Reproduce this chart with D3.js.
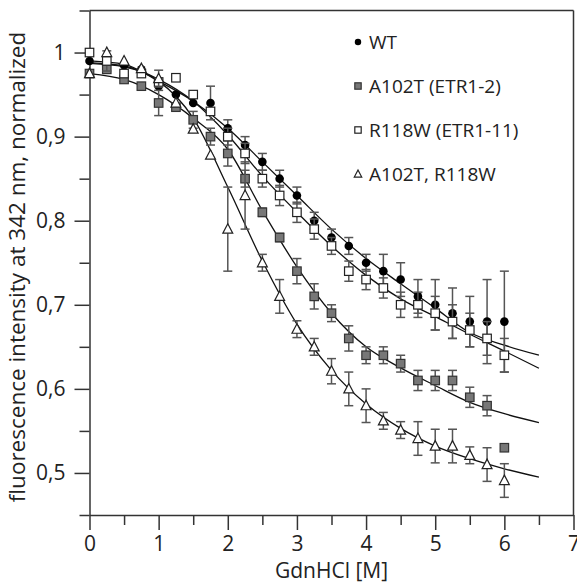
<!DOCTYPE html>
<meta charset="utf-8">
<style>
body { margin: 0; background: #fff; }
svg text { font-family: "Open Sans", sans-serif; fill: #222; }
.axis path, .axis line { stroke: #333; stroke-width: 1.5px; }
.fit { fill: none; stroke: #111; stroke-width: 1.3px; }
.err { stroke: #555; stroke-width: 1.5px; }
</style>
<body>
<script src="https://d3js.org/d3.v7.min.js"></script>
<script>

// GdnHCl concentrations (M)
var conc = [0, 0.25, 0.5, 0.75, 1, 1.25, 1.5, 1.75, 2, 2.25, 2.5, 2.75, 3,
            3.25, 3.5, 3.75, 4, 4.25, 4.5, 4.75, 5, 5.25, 5.5, 5.75, 6];

// measured fluorescence, normalized
var wt    = [0.99, 0.99, 0.985, 0.98, 0.96, 0.95, 0.94, 0.94, 0.91, 0.89, 0.87, 0.85, 0.83,
             0.80, 0.78, 0.77, 0.75, 0.74, 0.73, 0.71, 0.70, 0.69, 0.68, 0.68, 0.68];
var wtErr = [0, 0, 0, 0, 0, 0, 0, 0.02, 0.01, 0.01, 0.01, 0.01, 0.01,
             0.01, 0.01, 0.01, 0.01, 0.02, 0.02, 0.02, 0.03, 0.03, 0.03, 0.05, 0.06];

var a102t    = [0.975, 0.98, 0.968, 0.96, 0.94, 0.935, 0.92, 0.90, 0.88, 0.85, 0.81, 0.78, 0.74,
                0.71, 0.69, 0.66, 0.64, 0.64, 0.63, 0.61, 0.61, 0.61, 0.59, 0.58, 0.53];
var a102tErr = [0, 0, 0, 0, 0.015, 0, 0.01, 0.01, 0.015, 0.01, 0.005, 0.005, 0.015,
                0.015, 0.01, 0.015, 0.01, 0.01, 0.01, 0.012, 0.012, 0.012, 0.012, 0.012, 0];

var r118w    = [1.0, 0.99, 0.975, 0.975, 0.965, 0.97, 0.95, 0.93, 0.90, 0.88, 0.85, 0.83, 0.81,
                0.79, 0.77, 0.74, 0.73, 0.72, 0.70, 0.70, 0.69, 0.68, 0.67, 0.66, 0.64];
var r118wErr = [0, 0.012, 0, 0, 0, 0, 0, 0, 0.01, 0.012, 0.01, 0.012, 0.012,
                0.012, 0.01, 0.012, 0.012, 0.012, 0.015, 0.015, 0.02, 0.02, 0.02, 0.02, 0.02];

var double    = [0.975, 1.0, 0.99, 0.981, 0.969, 0.94, 0.909, 0.878, 0.79, 0.83, 0.75, 0.71, 0.671,
                 0.65, 0.621, 0.60, 0.58, 0.562, 0.551, 0.541, 0.532, 0.532, 0.521, 0.51, 0.491];
var doubleErr = [0, 0, 0, 0, 0.01, 0, 0, 0, 0.05, 0.04, 0.01, 0.02, 0.01,
                 0.01, 0.015, 0.02, 0.02, 0.01, 0.01, 0.02, 0.02, 0.02, 0.01, 0.02, 0.02];

// fitted curves, every 0.5 M
var fitX      = [0, 0.5, 1, 1.5, 2, 2.5, 3, 3.5, 4, 4.5, 5, 5.5, 6, 6.5];
var fitWt     = [0.99, 0.986, 0.966, 0.942, 0.91, 0.87, 0.83, 0.79, 0.755, 0.725, 0.696, 0.667, 0.652, 0.64];
var fitA102t  = [0.975, 0.968, 0.95, 0.922, 0.885, 0.812, 0.745, 0.69, 0.65, 0.625, 0.604, 0.584, 0.5705, 0.56];
var fitR118w  = [0.988, 0.984, 0.968, 0.942, 0.902, 0.853, 0.81, 0.77, 0.735, 0.707, 0.686, 0.665, 0.645, 0.6245];
var fitDouble = [0.987, 0.983, 0.966, 0.922, 0.84, 0.752, 0.677, 0.622, 0.582, 0.553, 0.532, 0.517, 0.505, 0.495];

var legendLabels = ["WT", "A102T (ETR1-2)", "R118W (ETR1-11)", "A102T, R118W"];

var margin = {top: 10.5, right: 3.5, bottom: 70, left: 89.5},
    width = 577 - margin.left - margin.right,
    height = 585 - margin.top - margin.bottom;

var x = d3.scaleLinear().domain([0, 7]).range([0, width]);
var y = d3.scaleLinear().domain([0.45, 1.05]).range([height, 0]);

var svg = d3.select("body").append("svg")
    .attr("width", 577)
    .attr("height", 585)
  .append("g")
    .attr("transform", "translate(" + margin.left + "," + margin.top + ")");

var fmt = function(d) { return d === 1 ? "1" : d3.format(".1f")(d).replace(".", ","); };

// minor ticks
svg.append("g")
    .attr("class", "axis")
    .attr("transform", "translate(0," + height + ")")
    .call(d3.axisBottom(x).tickValues(d3.range(0.5, 7, 1)).tickSize(10).tickFormat(""))
    .select(".domain").remove();
svg.append("g")
    .attr("class", "axis")
    .call(d3.axisLeft(y).tickValues(d3.range(0.45, 1.06, 0.1)).tickSize(10).tickFormat(""))
    .select(".domain").remove();

// major ticks
var xAxis = svg.append("g")
    .attr("class", "axis")
    .attr("transform", "translate(0," + height + ")")
    .call(d3.axisBottom(x).tickValues(d3.range(0, 8, 1)).tickSize(15).tickSizeOuter(0)
      .tickPadding(6).tickFormat(d3.format("d")));
var yAxis = svg.append("g")
    .attr("class", "axis")
    .call(d3.axisLeft(y).tickValues([0.5, 0.6, 0.7, 0.8, 0.9, 1]).tickSize(15).tickSizeOuter(0)
      .tickPadding(9).tickFormat(fmt));
xAxis.selectAll("text").style("font-size", "21px").style("fill", "#222");
yAxis.selectAll("text").style("font-size", "21px").style("fill", "#222");

// frame top / right
svg.append("line").attr("class", "err").style("stroke", "#333")
    .attr("x1", 0).attr("x2", width).attr("y1", 0).attr("y2", 0);
svg.append("line").attr("class", "err").style("stroke", "#333")
    .attr("x1", width).attr("x2", width).attr("y1", 0).attr("y2", height);

// axis titles
svg.append("text")
    .attr("x", x(3.5))
    .attr("y", height + 63)
    .attr("text-anchor", "middle")
    .style("font-size", "21px")
    .text("GdnHCl [M]");
svg.append("text")
    .attr("transform", "rotate(-90)")
    .attr("x", -(267 - margin.top))
    .attr("y", -margin.left + 25)
    .attr("text-anchor", "middle")
    .style("font-size", "22.5px")
    .text("fluorescence intensity at 342 nm, normalized");

// fit curves
var fitLine = d3.line()
    .x(function(d) { return x(d[0]); })
    .y(function(d) { return y(d[1]); })
    .curve(d3.curveMonotoneX);
[fitWt, fitA102t, fitR118w, fitDouble].forEach(function(f) {
  svg.append("path")
     .datum(fitX.map(function(c, i) { return [c, f[i]]; }))
     .attr("class", "fit")
     .attr("d", fitLine);
});

var series = [
  {vals: wt, errs: wtErr, shape: "circle"},
  {vals: a102t, errs: a102tErr, shape: "graySq"},
  {vals: r118w, errs: r118wErr, shape: "openSq"},
  {vals: double, errs: doubleErr, shape: "tri"}
];

function drawMark(g, shape, cx, cy, s) {
  if (shape === "circle") {
    g.append("circle").attr("cx", cx).attr("cy", cy).attr("r", 4.3 * s).attr("fill", "#000");
  } else if (shape === "graySq" || shape === "openSq") {
    var w = 8.5 * s;
    g.append("rect").attr("x", cx - w / 2).attr("y", cy - w / 2)
     .attr("width", w).attr("height", w)
     .attr("fill", shape === "graySq" ? "#777" : "#fff")
     .attr("stroke", shape === "graySq" ? "#333" : "#222")
     .attr("stroke-width", 1.2);
  } else {
    var h = 9 * s;
    g.append("path")
     .attr("d", "M" + cx + "," + (cy - h * 0.6) + "L" + (cx + h * 0.55) + "," + (cy + h * 0.45) +
                "L" + (cx - h * 0.55) + "," + (cy + h * 0.45) + "Z")
     .attr("fill", "#fff").attr("stroke", "#222").attr("stroke-width", 1.2);
  }
}

series.forEach(function(s) {
  var g = svg.append("g");
  conc.forEach(function(c, i) {
    var e = s.errs[i];
    if (e > 0) {
      var cx = x(c), y1 = y(s.vals[i] + e), y2 = y(s.vals[i] - e);
      g.append("line").attr("class", "err").attr("x1", cx).attr("x2", cx).attr("y1", y1).attr("y2", y2);
      g.append("line").attr("class", "err").attr("x1", cx - 4.5).attr("x2", cx + 4.5).attr("y1", y1).attr("y2", y1);
      g.append("line").attr("class", "err").attr("x1", cx - 4.5).attr("x2", cx + 4.5).attr("y1", y2).attr("y2", y2);
    }
  });
  conc.forEach(function(c, i) {
    drawMark(g, s.shape, x(c), y(s.vals[i]), 1);
  });
});

// legend
var legend = svg.append("g").attr("transform", "translate(" + (358 - margin.left) + "," + (42 - margin.top) + ")");
legendLabels.forEach(function(l, i) {
  var row = legend.append("g").attr("transform", "translate(0," + (i * 44) + ")");
  drawMark(row, series[i].shape, 0, 0, 0.75);
  row.append("text").attr("x", 11).attr("y", 7).style("font-size", "19px").text(l);
});

</script>
</body>
